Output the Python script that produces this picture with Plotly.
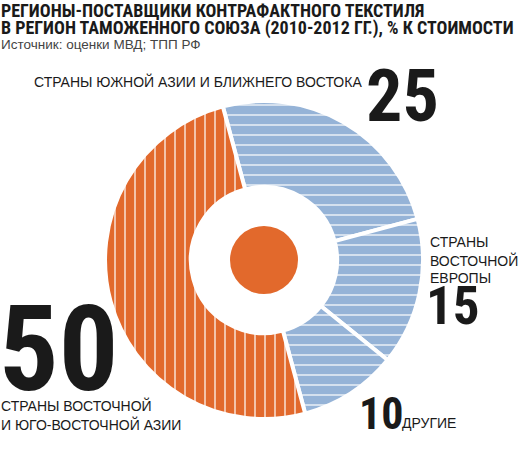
import plotly.graph_objects as go

labels = ["Страны Южной Азии и Ближнего Востока", "Страны Восточной Европы", "Другие",
          "Страны Восточной и Юго-Восточной Азии"]
values = [25, 15, 10, 50]
colors = ["#95B3D7", "#95B3D7", "#95B3D7", "#E2692C"]
shapes_pat = ["-", "-", "-", "|"]

W, H = 520, 458
cx, cy, R = 264, 260, 159

NARROW = "Liberation Sans Narrow, Roboto Condensed, Arial Narrow, Roboto"
REG = "Liberation Sans, Arial, Roboto"

dom = dict(x=[(cx - R) / W, (cx + R) / W], y=[1 - (cy + R) / H, 1 - (cy - R) / H])

fig = go.Figure()
fig.add_trace(go.Pie(
    labels=labels, values=values, sort=False, direction="clockwise", rotation=-15,
    hole=0.46, textinfo="none", hoverinfo="label+value",
    marker=dict(colors=colors, line=dict(color="white", width=4),
                pattern=dict(shape=shapes_pat, fillmode="replace", bgcolor=colors,
                             fgcolor=["white"] * len(values), fgopacity=1, size=10, solidity=0.12)),
    domain=dom, showlegend=False,
))

r0 = 34
fig.add_shape(type="circle", xref="paper", yref="paper",
              x0=(cx - r0) / W, x1=(cx + r0) / W, y0=1 - (cy + r0) / H, y1=1 - (cy - r0) / H,
              fillcolor="#E2692C", line=dict(width=0))

def ann(text, x, y, size, bold=False, color="#1a1a1a", xanchor="left", yanchor="middle", family=REG):
    if bold:
        text = "<b>" + text + "</b>"
    fig.add_annotation(text=text, x=x / W, y=1 - y / H, xref="paper", yref="paper",
                       xanchor=xanchor, yanchor=yanchor, showarrow=False, align="left",
                       font=dict(size=size, color=color, family=family))

ann("РЕГИОНЫ-ПОСТАВЩИКИ КОНТРАФАКТНОГО ТЕКСТИЛЯ", -1, 10, 18, bold=True, family=NARROW)
ann("В РЕГИОН ТАМОЖЕННОГО СОЮЗА (2010-2012 ГГ.), % К СТОИМОСТИ", -1, 28, 18, bold=True, family=NARROW)
ann("Источник: оценки МВД; ТПП РФ", -1, 45, 13.5, color="#444444")
ann("СТРАНЫ ЮЖНОЙ АЗИИ И БЛИЖНЕГО ВОСТОКА", 364, 82, 14, xanchor="right")
ann("25", 364, 96, 72, bold=True, family=NARROW)
ann("СТРАНЫ", 428, 242, 14)
ann("ВОСТОЧНОЙ", 428, 260, 14)
ann("ЕВРОПЫ", 428, 278, 14)
ann("15", 424, 306, 53, bold=True, family=NARROW)
ann("10", 357, 414, 44, bold=True, family=NARROW)
ann("ДРУГИЕ", 400, 423, 14)
ann("50", -3, 350, 118, bold=True, family=NARROW)
ann("СТРАНЫ ВОСТОЧНОЙ", -1, 405, 14)
ann("И ЮГО-ВОСТОЧНОЙ АЗИИ", -1, 424, 14)

fig.update_layout(width=W, height=H, margin=dict(l=0, r=0, t=0, b=0),
                  paper_bgcolor="white", plot_bgcolor="white")
fig.write_html("out.html")
